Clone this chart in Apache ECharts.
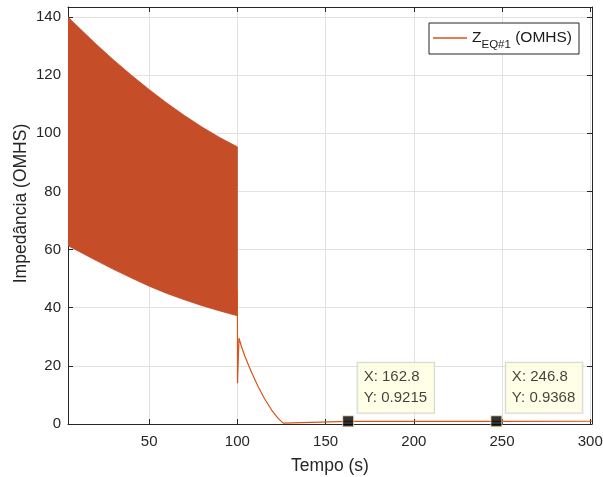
<!DOCTYPE html>
<html>
<head>
<meta charset="utf-8">
<script src="https://cdn.jsdelivr.net/npm/echarts@6/dist/echarts.min.js"></script>
<style>
html,body{margin:0;padding:0;background:#fff;}
#chart{width:603px;height:477px;}
</style>
</head>
<body>
<div id="chart"></div>
<script>
// Envelope of the fast oscillation (0 - 100 s)
var bandTime  = [4, 10, 20, 30, 40, 50, 60, 70, 80, 90, 100];
var bandUpper = [140, 136.4, 130.6, 125.1, 119.9, 115.0, 110.4, 106.1, 102.1, 98.5, 95.3];
var bandLower = [61.3, 59.4, 56.2, 53.1, 50.2, 47.4, 44.9, 42.7, 40.7, 38.9, 37.2];

// Trace after the switch at 100 s
var traceTime  = [100, 100, 100.1, 100.9, 102.5, 104.3, 108, 111.8, 115.5, 119.4, 123, 126, 127, 162.8, 246.8, 301];
var traceValue = [37.2, 46.1, 14.0, 29.5, 26.3, 23.2, 17.8, 12.8, 8.6, 4.8, 2.0, 0.3, 0.93, 0.9215, 0.9368, 0.94];

// Data tips
var tipX = [162.8, 246.8];
var tipY = [0.9215, 0.9368];

// Tick labels
var xTicks = [50, 100, 150, 200, 250, 300];
var yTicks = [0, 20, 40, 60, 80, 100, 120, 140];

var FONT = 'Liberation Sans, Arial, Helvetica, sans-serif';
var AX = '#262626';
var GRID = '#e2e2e2';
var BAND = '#C54D27';
var LINE = '#D95319';

function pairs(xs, ys) { return xs.map(function (x, i) { return [x, ys[i]]; }); }

var bandData = bandTime.map(function (t, i) { return [t, bandLower[i], bandUpper[i]]; });

function renderBand(params, api) {
  if (params.dataIndexInside !== 0) return null;
  var n = params.dataInsideLength;
  var top = [], bottom = [];
  for (var i = 0; i < n; i++) {
    var t = api.value(0, i);
    bottom.push(api.coord([t, api.value(1, i)]));
    top.push(api.coord([t, api.value(2, i)]));
  }
  var pts = bottom.concat(top.reverse());
  return {
    type: 'polygon',
    shape: {points: pts, smooth: 0},
    style: {fill: BAND, stroke: BAND, lineWidth: 0.8}
  };
}

var chart = echarts.init(document.getElementById('chart'), null, {renderer: 'canvas'});
chart.setOption({
  animation: false,
  backgroundColor: '#fff',
  grid: {left: 68, right: 11, top: 7, bottom: 53, containLabel: false, outerBoundsMode: 'none'},
  legend: {
    data: [{name: 'ZEQ', itemStyle: {color: LINE}}],
    left: 429, top: 23,
    backgroundColor: '#fff',
    borderColor: AX, borderWidth: 1, borderRadius: 0,
    padding: [7, 7, 3, 4],
    icon: 'rect',
    itemWidth: 34, itemHeight: 1.3,
    itemStyle: {color: LINE, borderWidth: 0},
    selectedMode: false,
    formatter: function () { return '{a|Z}{b|EQ#1}{a| (OMHS)}'; },
    textStyle: {
      color: '#1a1a1a', fontFamily: FONT,
      rich: {
        a: {fontSize: 15.5, lineHeight: 26, verticalAlign: 'middle', fontFamily: FONT, color: '#1a1a1a'},
        b: {fontSize: 11.5, verticalAlign: 'bottom', fontFamily: FONT, color: '#1a1a1a'}
      }
    }
  },
  xAxis: [{
    type: 'value', min: 4, max: 301, position: 'bottom',
    axisLine: {show: true, onZero: false, lineStyle: {color: AX, width: 1}},
    axisTick: {show: true, inside: true, length: 5, customValues: xTicks, lineStyle: {color: AX}},
    axisLabel: {customValues: xTicks, fontSize: 15, color: AX, fontFamily: FONT, margin: 10},
    splitLine: {show: true, lineStyle: {color: GRID, width: 1}},
    name: 'Tempo (s)', nameLocation: 'middle', nameGap: 33,
    nameTextStyle: {fontSize: 17.5, color: AX, fontFamily: FONT}
  }, {
    type: 'value', min: 4, max: 301, position: 'top',
    axisLine: {show: true, onZero: false, lineStyle: {color: AX, width: 1}},
    axisTick: {show: true, inside: true, length: 5, customValues: xTicks, lineStyle: {color: AX}},
    axisLabel: {show: false},
    splitLine: {show: false}
  }],
  yAxis: [{
    type: 'value', min: 0, max: 143.4, position: 'left',
    axisLine: {show: true, onZero: false, lineStyle: {color: AX, width: 1}},
    axisTick: {show: true, inside: true, length: 5, customValues: yTicks, lineStyle: {color: AX}},
    axisLabel: {customValues: yTicks, fontSize: 15, color: AX, fontFamily: FONT, margin: 7},
    splitLine: {show: true, lineStyle: {color: GRID, width: 1}},
    name: 'Impedância (OMHS)', nameLocation: 'middle', nameGap: 38, nameMoveOverlap: false,
    nameTextStyle: {fontSize: 17.5, color: AX, fontFamily: FONT, padding: [0, 0, 0, 24]}
  }, {
    type: 'value', min: 0, max: 143.4, position: 'right',
    axisLine: {show: true, onZero: false, lineStyle: {color: AX, width: 1}},
    axisTick: {show: true, inside: true, length: 5, customValues: yTicks, lineStyle: {color: AX}},
    axisLabel: {show: false},
    splitLine: {show: false}
  }],
  series: [{
    name: 'band', type: 'custom',
    renderItem: renderBand,
    data: bandData,
    encode: {x: 0, y: [1, 2]},
    clip: true, silent: true, z: 2
  }, {
    name: 'ZEQ', type: 'line', symbol: 'none',
    data: pairs(traceTime, traceValue),
    lineStyle: {color: LINE, width: 1.2},
    itemStyle: {color: LINE},
    z: 3
  }, {
    name: 'tips', type: 'scatter', symbol: 'rect', symbolSize: 11,
    data: pairs(tipX, tipY),
    itemStyle: {color: '#000', borderColor: '#efe9c0', borderWidth: 1},
    z: 5,
    label: {
      show: true,
      formatter: function (p) { return 'X: ' + p.value[0] + '\nY: ' + p.value[1]; },
      position: [15.5, -2.5], align: 'left', verticalAlign: 'bottom',
      backgroundColor: '#FFFFE1', borderColor: '#cacaca', borderWidth: 1,
      padding: [4, 7, 5, 6],
      fontSize: 15, lineHeight: 20.5, color: '#111', fontFamily: FONT
    }
  }]
});
</script>
</body>
</html>
